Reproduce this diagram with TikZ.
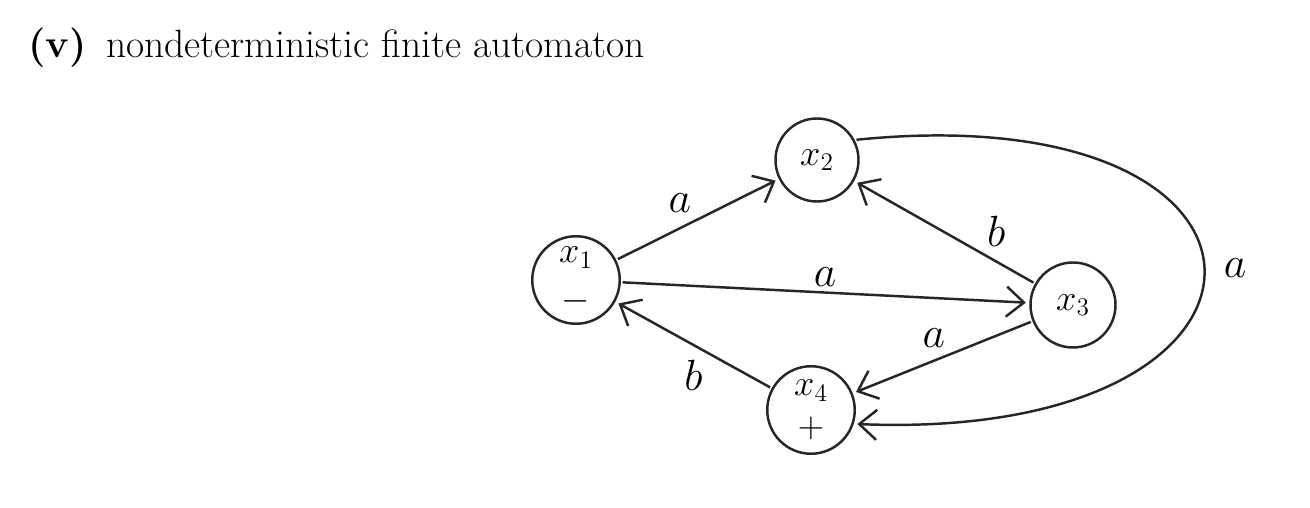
\documentclass[tikz,border=0pt]{standalone}
\usepackage{amsmath,amssymb}
\usepackage{xcolor}
\usepackage{tikz}
\usetikzlibrary{arrows.meta, positioning, calc}

\begin{document}
\begin{tikzpicture}[
    state/.style={circle, draw=black!85, line width=1.4pt, minimum size=1.75cm, inner sep=0pt, align=center, font=\fontsize{21}{20}\selectfont},
    arrow/.style={line width=1.4pt, draw=black!85, ->, >={Straight Barb[length=3.5mm, width=6mm, line width=1.4pt]}, shorten >=2pt, shorten <=1pt},
    lab/.style={font=\fontsize{30}{30}\selectfont, inner sep=3pt}]

\useasboundingbox (0,0) rectangle (26.2,10.16);

\node (title) [anchor=base west, font=\fontsize{22.5}{27}\selectfont] at (0.44,9.0) {\textbf{(v)}\enspace nondeterministic finite automaton};

\node (x1) [state] at (11.52,4.56) {$x_1$\\[7pt]$-$};
\node (x2) [state, minimum size=1.66cm] at (16.34,6.96) {$x_2$};
\node (x3) [state, minimum size=1.7cm] at (21.46,4.06) {$x_3$};
\node (x4) [state] at (16.22,1.96) {$x_4$\\[4pt]$+$};

\draw [arrow] (x1) -- node[lab, above left] {$a$} (x2);
\draw [arrow] (x1) -- node[lab, above] {$a$} (x3);
\draw [arrow] (x3) -- node[lab, above right, pos=0.3] {$b$} (x2);
\draw [arrow] (x3) -- node[lab, above left, pos=0.45] {$a$} (x4);
\draw [arrow] (x4) -- node[lab, below left, pos=0.4] {$b$} (x1);
\draw [arrow] (x2.28) .. controls (26.4,8.3) and (26.4,1.3) .. (x4.-18);

\node (ax) [lab] at (24.7,4.8) {$a$};

\end{tikzpicture}
\end{document}
